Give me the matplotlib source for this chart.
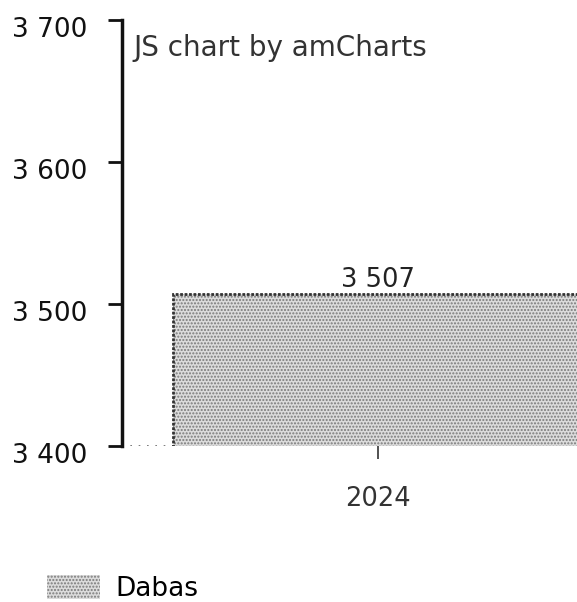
#
# Single bar chart, amCharts style
#
import matplotlib
matplotlib.use('Agg')
import matplotlib.pyplot as plt
import matplotlib.transforms as mtransforms
from matplotlib.ticker import FuncFormatter

# Data
categories = ['2024']
values = [3507]
seriesName = 'Dabas'
yTicks = [3400, 3500, 3600, 3700]
yLim = [3400, 3700]


def spaced(v, pos=None):
    return '{:,}'.format(int(round(v))).replace(',', ' ')


plt.rcParams['font.family'] = ['DejaVu Sans']
fig = plt.figure(figsize=[5.77, 6.02], dpi=100, facecolor='white')
W, H = 577.0, 602.0
# axes extends past the right edge, as in the reference the bar is cut off
ax = fig.add_axes([122/W, 1 - 446/H, 512/W, 426/H])

x = list(range(len(categories)))
bars = ax.bar(x, values, width=0.8, color='#dcdcdc', edgecolor='#7a7a7a',
              hatch='.....', linewidth=0, zorder=2)
ax.bar(x, values, width=0.8, color='none', edgecolor='#333333',
       linewidth=2, linestyle=(0, (1, 0.6)), zorder=3)
ax.bar_label(bars, labels=[spaced(v) for v in values], padding=1,
             fontsize=18.5, color='#222222')

ax.set_xlim(-0.5, len(categories) - 0.5)
ax.set_ylim(yLim)
ax.set_yticks(yTicks)
ax.yaxis.set_major_formatter(FuncFormatter(spaced))
ax.set_xticks(x)
ax.set_xticklabels(categories)

ax.axhline(yLim[0], color='#666666', linestyle=(0, (1, 4)), linewidth=1.2,
           zorder=1)

for s in ['top', 'right', 'bottom']:
    ax.spines[s].set_visible(False)
ax.spines['left'].set_linewidth(2.5)
ax.spines['left'].set_color('#111111')
ax.tick_params(axis='y', length=10, width=2, colors='#111111', labelsize=19,
               pad=15)
ax.tick_params(axis='x', length=9, width=1.2, colors='#333333', labelsize=18.5,
               pad=20)
ax.set_facecolor('white')

# value labels sit a little below their ticks in the reference
shift = mtransforms.ScaledTranslation(0, -5/72, fig.dpi_scale_trans)
for lbl in ax.get_yticklabels():
    lbl.set_transform(lbl.get_transform() + shift)

fig.text(133/W, 1 - 48/H, 'JS chart by amCharts', fontsize=20,
         color='#333333', va='center', ha='left')

fig.legend(handles=[bars[0]], labels=[seriesName], loc='lower left',
           bbox_to_anchor=(23/W, -24/H), frameon=False, fontsize=19,
           handlelength=2.0, handleheight=1.0, handletextpad=0.6)

plt.savefig('out.png', dpi=100, facecolor='white')
plt.close()
